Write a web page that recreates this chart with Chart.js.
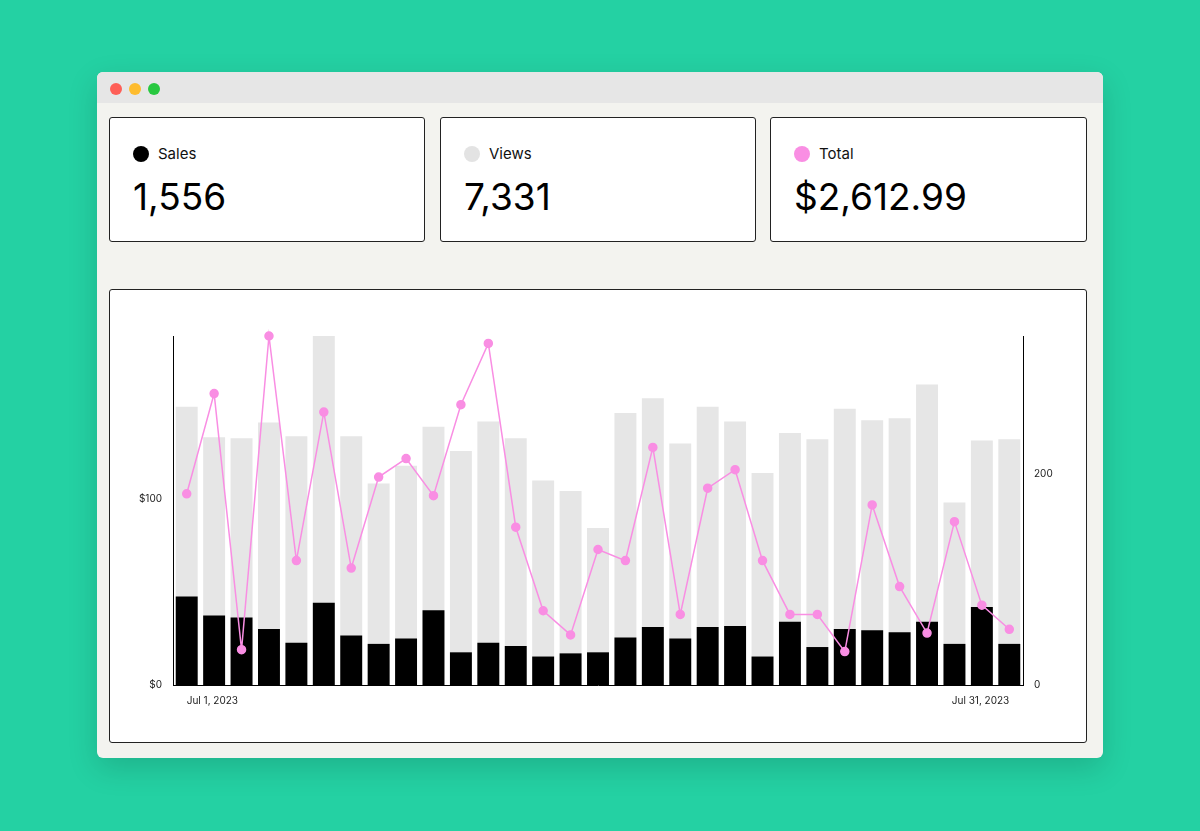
<!DOCTYPE html>
<html><head><meta charset="utf-8">
<script src="https://cdn.jsdelivr.net/npm/chart.js@4"></script>
<style>
body{margin:0;width:1200px;height:831px;background:#24d1a3;font-family:Inter,"Noto Sans",sans-serif;overflow:hidden}
.win{position:absolute;left:97px;top:72px;width:1006px;height:686px;background:#f3f3ef;border-radius:6px;box-shadow:0 10px 30px rgba(0,0,0,0.15);overflow:hidden}
.bar{height:31px;background:#e6e6e6;position:relative}
.dot{position:absolute;top:11px;width:12px;height:12px;border-radius:50%}
.card{position:absolute;top:45px;height:125px;background:#fff;border:1px solid #222;border-radius:3px;box-sizing:border-box}
.lab{position:absolute;left:23px;top:26px;font-size:15px;color:#111;display:flex;align-items:center}
.lab i{display:inline-block;width:16px;height:16px;border-radius:50%;margin-right:9px}
.val{position:absolute;left:23px;top:56px;font-size:37px;color:#000}
.chart{position:absolute;left:12px;top:217px;width:978px;height:454px;background:#fff;border:1px solid #222;border-radius:3px;box-sizing:border-box}
canvas{display:block}
</style></head><body>
<div class="win">
<div class="bar"><span class="dot" style="left:13px;background:#fe5f57"></span><span class="dot" style="left:32px;background:#febc2e"></span><span class="dot" style="left:51px;background:#28c840"></span></div>
<div class="card" style="left:12px;width:316px"><div class="lab"><i style="background:#000"></i>Sales</div><div class="val">1,556</div></div>
<div class="card" style="left:343px;width:316px"><div class="lab"><i style="background:#e3e3e3"></i>Views</div><div class="val">7,331</div></div>
<div class="card" style="left:673px;width:317px"><div class="lab"><i style="background:#f98ee3"></i>Total</div><div class="val">$2,612.99</div></div>
<div class="chart"><canvas id="c" width="976" height="452"></canvas></div>
</div>
<script>
const labels=[];for(let i=1;i<=31;i++)labels.push('Jul '+i+', 2023');
const sales=[84,66,64,53,40,78,47,39,44,71,31,40,37,27,30,31,45,55,44,55,56,27,60,36,53,52,50,60,39,74,39];
const viewsTotal=[264,235,234,249,236,331,236,191,208,245,222,250,234,194,184,149,258,272,229,264,250,201,239,233,262,251,253,285,173,232,233];
const totals=[103,157,19,188,67,147,63,112,122,102,151,184,85,40,27,73,67,128,38,106,116,67,38,38,18,97,53,28,88,43,30];
const tickFont={family:'Inter',size:10};
new Chart(document.getElementById('c'),{
 type:'bar',
 data:{labels,datasets:[
  {type:'line',label:'Total',data:totals,yAxisID:'y',borderColor:'#f98ee3',backgroundColor:'#f98ee3',borderWidth:1.5,pointRadius:4,pointHoverRadius:4,tension:0,order:0,clip:false},
  {label:'Sales',data:sales,yAxisID:'y1',backgroundColor:'#000',barPercentage:0.8,categoryPercentage:1,order:1},
  {label:'Views',data:viewsTotal,yAxisID:'y1',backgroundColor:'#e6e6e6',barPercentage:0.8,categoryPercentage:1,order:2}
 ]},
 options:{responsive:false,animation:false,devicePixelRatio:1,
  layout:{padding:{left:0,right:0,top:46,bottom:0}},
  plugins:{legend:{display:false},tooltip:{enabled:false}},
  scales:{
   x:{stacked:true,grid:{display:false},border:{color:'#000'},afterFit:s=>{s.height=57},
      ticks:{autoSkip:false,maxRotation:0,padding:2,align:'inner',font:tickFont,color:'#222',callback:(v,i)=>(i===0||i===30)?labels[i]:''}},
   y:{position:'left',min:0,max:188,grid:{display:false},border:{color:'#000'},afterFit:s=>{s.width=63},
      ticks:{stepSize:100,font:tickFont,color:'#222',callback:v=>(v%100===0)?'$'+v:''}},
   y1:{position:'right',min:0,max:331,stacked:false,grid:{display:false},border:{color:'#000'},afterFit:s=>{s.width=63},
      ticks:{stepSize:200,font:tickFont,color:'#222',callback:v=>(v%200===0)?v:''}}
  }}
});
</script>
</body></html>
